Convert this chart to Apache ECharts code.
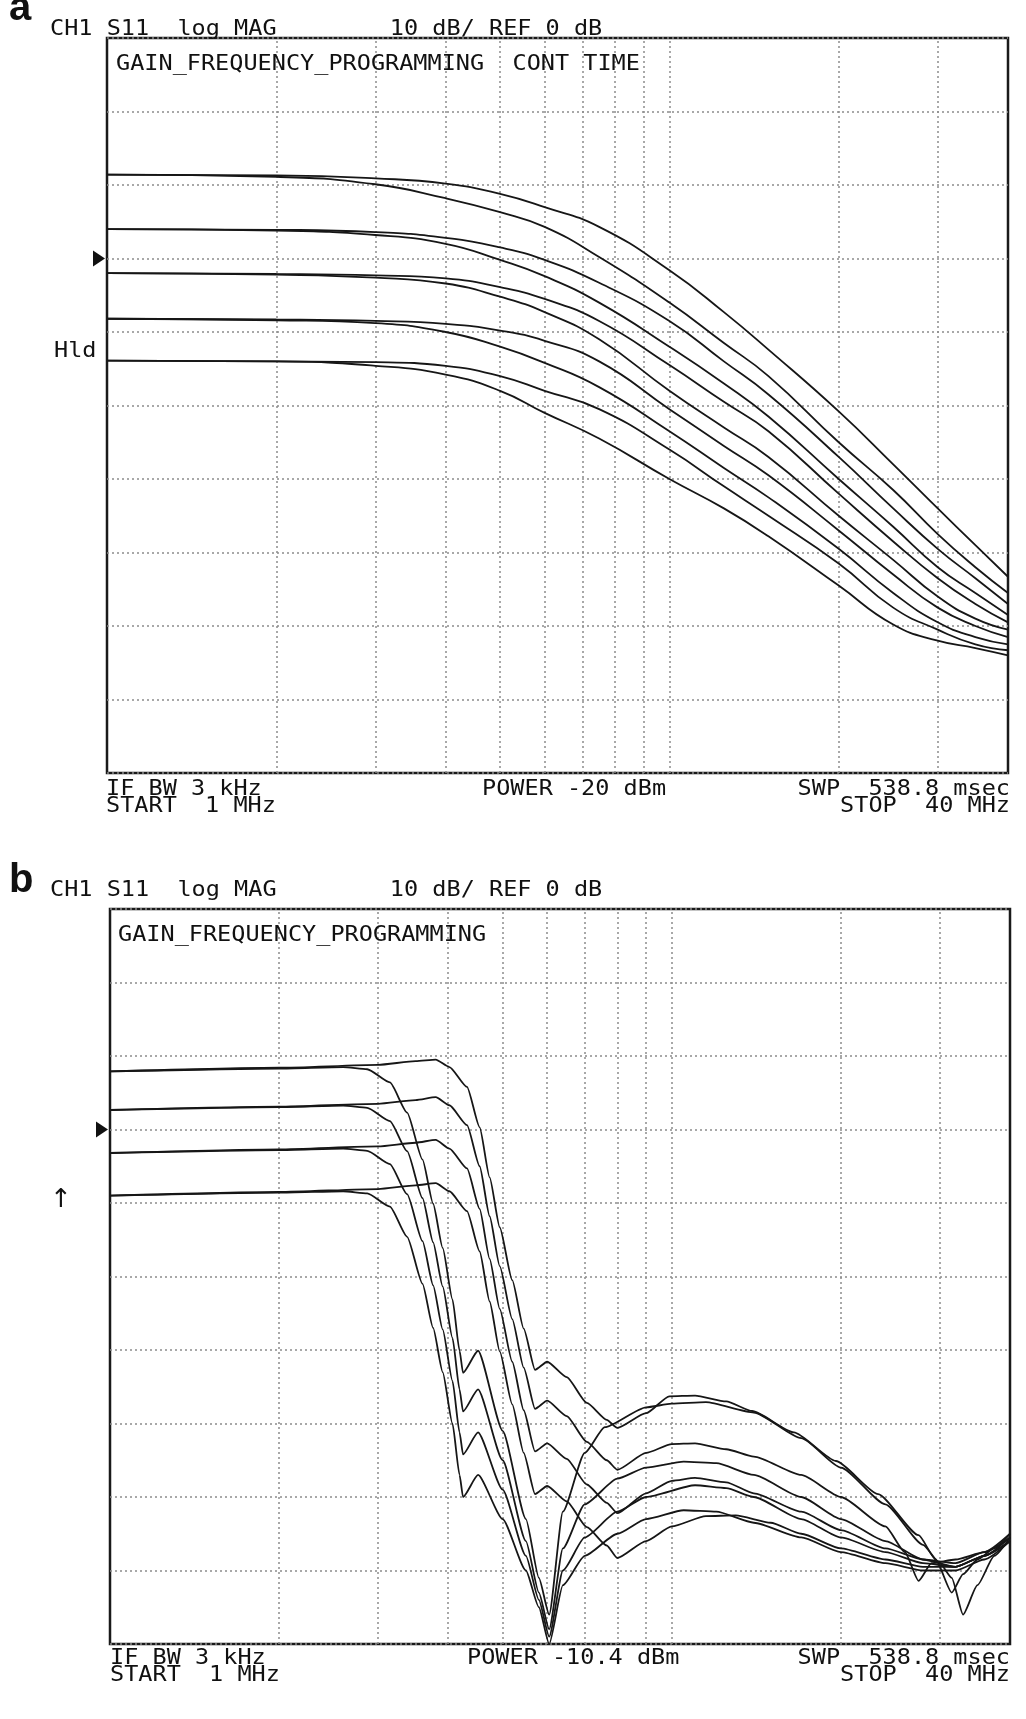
<!DOCTYPE html>
<html>
<head>
<meta charset="utf-8">
<title>GAIN_FREQUENCY_PROGRAMMING</title>
<style>
  html, body { margin: 0; padding: 0; background: #fff; }
  #main { width: 1026px; height: 1719px; }
</style>
</head>
<body>
<div id="main"></div>
<script src="https://cdn.jsdelivr.net/npm/echarts@6/dist/echarts.min.js"></script>
<script>
// vertical grid lines of the analyzer screen (MHz, log sweep 1..40)
var freqGrid = [2, 3, 4, 5, 6, 7, 8, 9, 10, 20, 30];

// ---- panel a : continuous-time filter, 5 gains x 2 bandwidths (dB) ----
var aFreq = [1, 2, 3, 4, 5, 6, 7.5, 10, 12.5, 15, 20, 25, 30, 35, 40];
var a1A = [11.4, 11.3, 10.9, 10.2, 8.8, 7.0, 4.3, -1.6, -7.3, -12.4, -20.8, -28, -34, -39, -43.3];
var a1B = [11.4, 11.1, 10.1, 8.2, 6.3, 4.3, 0.2, -6, -11.5, -16, -25, -31.5, -37.5, -42, -45.5];
var a2A = [4.0, 3.9, 3.6, 2.8, 1.5, -0.2, -3.3, -8.5, -14, -18.5, -27, -34, -39.5, -43.5, -47];
var a2B = [4.0, 3.8, 3.2, 2.0, -0.2, -2.4, -6, -12, -17, -21.5, -30, -36.5, -42, -45.5, -48.5];
var a3A = [-2.0, -2.1, -2.3, -2.7, -3.9, -5.5, -8.5, -14.5, -19.5, -23.5, -32, -38.5, -43.5, -47, -49.5];
var a3B = [-2.0, -2.2, -2.6, -3.4, -5.2, -7.3, -11, -18, -23, -27, -35, -41, -46, -49, -50.5];
var a4A = [-8.2, -8.3, -8.5, -8.9, -9.8, -11.2, -14, -20.5, -25.5, -29.5, -37, -43, -47.5, -50, -51.5];
var a4B = [-8.2, -8.4, -8.8, -10, -12, -14.2, -17.5, -23.5, -28.5, -32.5, -39.5, -45.5, -49.5, -51.5, -52.5];
var a5A = [-13.9, -14, -14.1, -14.6, -16, -18, -20.5, -26, -31, -35, -41.5, -47.5, -50.5, -52.5, -53.3];
var a5B = [-13.9, -14.0, -14.6, -15.8, -18, -21, -24.5, -30, -34, -37.8, -44.5, -49.8, -52, -53, -54];

// ---- panel b : filter with notches, 4 gains x 2 bandwidths, [MHz, dB] ----
var b1A = [[1,7.9],[2,8.4],[3,8.8],[3.5,9.3],[3.8,9.5],[4.02,8.5],[4.32,5.8],[4.55,0.3],[4.74,-6.5],[4.94,-13.3],[5.2,-20.5],[5.45,-27.1],[5.71,-32.7],[6.0,-31.6],[6.5,-33.7],[7.06,-37.2],[7.66,-39.5],[8.0,-40.6],[9.0,-38.6],[9.9,-36.3],[11,-36.2],[12.5,-37],[13.9,-38.3],[16.5,-41.2],[19.6,-45.1],[23.3,-49.6],[27.5,-55.2],[29.5,-58.5],[31.5,-63],[33,-60.5],[35,-58.5],[37.5,-57],[40,-55]];
var b1B = [[1,7.9],[2,8.3],[2.6,8.5],[2.87,8.2],[3.15,6.4],[3.38,2.3],[3.6,-4.1],[3.76,-10.1],[3.91,-16.1],[4.07,-23.1],[4.19,-30.1],[4.25,-33.1],[4.52,-30.1],[5.0,-41],[5.5,-53],[5.8,-61],[6.05,-66],[6.4,-52],[7,-44],[7.6,-40.5],[9,-37.8],[10,-37.3],[11.5,-37.1],[14,-38.5],[17,-42],[20,-46],[24,-51],[28,-56.5],[30,-59],[31.5,-61],[33,-66],[35,-62],[37.5,-58],[40,-55.5]];
var b2A = [[1,2.65],[2,3.1],[3,3.5],[3.5,4.0],[3.8,4.4],[4.02,3.3],[4.32,0.6],[4.55,-5],[4.74,-11.8],[4.94,-18.6],[5.2,-25.8],[5.45,-32.4],[5.71,-38],[6.0,-36.9],[6.5,-39],[7.06,-42.5],[7.66,-45],[8.0,-46.3],[9,-44],[10,-42.8],[11,-42.7],[12.5,-43.5],[14,-44.5],[17,-47],[20,-50],[24,-54],[26,-57.5],[27.5,-61.4],[29,-59],[32,-58.5],[36,-57.5],[40,-55]];
var b2B = [[1,2.65],[2,3.05],[2.6,3.25],[2.87,2.95],[3.15,1.15],[3.38,-2.95],[3.6,-9.35],[3.76,-15.35],[3.91,-21.35],[4.07,-28.35],[4.19,-35.35],[4.25,-38.35],[4.52,-35.35],[5.0,-45],[5.5,-56],[5.8,-63],[6.05,-68],[6.4,-57],[7,-51],[8,-47.5],[9,-46],[10.5,-45.2],[12,-45.4],[14,-47],[17,-50],[20,-53],[24,-56],[28,-58.5],[32,-59.5],[36,-58],[40,-55.5]];
var b3A = [[1,-3.2],[2,-2.7],[3,-2.3],[3.5,-1.8],[3.8,-1.4],[4.02,-2.6],[4.32,-5.3],[4.55,-10.8],[4.74,-17.6],[4.94,-24.4],[5.2,-31.6],[5.45,-38.2],[5.71,-43.8],[6.0,-42.7],[6.5,-44.8],[7.06,-48.3],[7.66,-50.8],[8.0,-52.2],[9,-49.5],[10,-47.8],[11,-47.4],[12.5,-48],[14,-49.5],[17,-52],[20,-54.5],[24,-57],[28,-58.5],[32,-59],[36,-57.5],[40,-55.5]];
var b3B = [[1,-3.2],[2,-2.8],[2.6,-2.6],[2.87,-2.9],[3.15,-4.7],[3.38,-8.8],[3.6,-15.2],[3.76,-21.2],[3.91,-27.2],[4.07,-34.2],[4.19,-41.2],[4.25,-44.2],[4.52,-41.2],[5.0,-49],[5.5,-58],[5.8,-64],[6.05,-69],[6.4,-60],[7,-55.5],[8,-52],[9,-50],[11,-48.4],[12.5,-48.8],[14,-50],[17,-53],[20,-55.5],[24,-57.5],[28,-59],[32,-59.5],[36,-58],[40,-56]];
var b4A = [[1,-9],[2,-8.5],[3,-8.1],[3.5,-7.6],[3.8,-7.3],[4.02,-8.4],[4.32,-11.1],[4.55,-16.6],[4.74,-23.4],[4.94,-30.2],[5.2,-37.4],[5.45,-44],[5.71,-49.6],[6.0,-48.5],[6.5,-50.6],[7.06,-54.1],[7.66,-56.6],[8.0,-58.3],[9,-56],[10,-54],[11.5,-52.6],[13,-52.5],[15,-53.5],[17,-55],[20,-57],[24,-58.5],[28,-59.5],[32,-59.5],[36,-58],[40,-56]];
var b4B = [[1,-9],[2,-8.6],[2.6,-8.4],[2.87,-8.7],[3.15,-10.5],[3.38,-14.6],[3.6,-21],[3.76,-27],[3.91,-33],[4.07,-40],[4.19,-47],[4.25,-50],[4.52,-47],[5.0,-53],[5.5,-60],[5.8,-65],[6.05,-70],[6.4,-62],[7,-58],[8,-55],[9,-53],[10.5,-51.8],[12,-52],[14,-53.5],[17,-55.5],[20,-57.5],[24,-59],[28,-60],[32,-60],[36,-58.5],[40,-56]];

var aTraces = [a1A, a1B, a2A, a2B, a3A, a3B, a4A, a4B, a5A, a5B];
var bTraces = [b1A, b1B, b2A, b2B, b3A, b3B, b4A, b4B];

var myChart = echarts.init(document.getElementById('main'));

var dots = { type: [2, 3], color: '#8c8c8c', width: 1.5 };
var FONT = '21px "DejaVu Sans Mono", "Liberation Mono", monospace';

function pairs(freq, vals) {
    return vals.map(function (v, i) { return [freq[i], v]; });
}

function trace(data, idx, smooth, monotone) {
    return {
        type: 'line', xAxisIndex: idx, yAxisIndex: idx, data: data,
        showSymbol: false, symbol: 'none', smooth: smooth, smoothMonotone: monotone,
        lineStyle: { color: '#161616', width: 1.8 }, silent: true, z: 3
    };
}

// empty series that carries the log grid lines and the reference marker
function screen(idx) {
    return {
        type: 'line', xAxisIndex: idx, yAxisIndex: idx, data: [], silent: true, z: 1,
        markLine: {
            silent: true, z: 1, symbol: ['none', 'none'], label: { show: false },
            lineStyle: dots, emphasis: { disabled: true },
            data: freqGrid.map(function (f) { return { xAxis: f }; })
        },
        markPoint: {
            silent: true, symbol: 'triangle', symbolSize: [16, 12], symbolRotate: -90,
            symbolOffset: [-8, 0], itemStyle: { color: '#111' }, label: { show: false },
            data: [{ coord: [1, 0] }]
        }
    };
}

function label(s, x, y, align) {
    return {
        type: 'text', x: x, y: y, scaleX: 1.12, silent: true, z: 10,
        style: { text: s, font: FONT, fill: '#111', textAlign: align || 'left', textVerticalAlign: 'middle' }
    };
}

function letter(s, x, y) {
    return {
        type: 'text', x: x, y: y, silent: true, z: 10,
        style: { text: s, font: 'bold 40px "Liberation Sans", Arial, sans-serif', fill: '#111', textAlign: 'left', textVerticalAlign: 'middle' }
    };
}

var series = [screen(0), screen(1)];
aTraces.forEach(function (t) { series.push(trace(pairs(aFreq, t), 0, 0.5, null)); });
bTraces.forEach(function (t) { series.push(trace(t, 1, 0.2, 'x')); });

function xAx(i) {
    return {
        type: 'log', logBase: 10, min: 1, max: 40, gridIndex: i,
        axisLine: { show: false }, axisTick: { show: false }, axisLabel: { show: false }, splitLine: { show: false }
    };
}
function yAx(i) {
    return {
        type: 'value', min: -70, max: 30, interval: 10, gridIndex: i,
        axisLine: { show: false }, axisTick: { show: false }, axisLabel: { show: false },
        splitLine: { show: true, lineStyle: dots }
    };
}

var option = {
    animation: false,
    backgroundColor: '#fff',
    grid: [
        { left: 107, top: 38, width: 901, height: 735, show: true, borderColor: '#1a1a1a', borderWidth: 2.5 },
        { left: 110, top: 909, width: 900, height: 735, show: true, borderColor: '#1a1a1a', borderWidth: 2.5 }
    ],
    xAxis: [xAx(0), xAx(1)],
    yAxis: [yAx(0), yAx(1)],
    series: series,
    graphic: [
        letter('a', 9, 9),
        label('CH1 S11  log MAG        10 dB/ REF 0 dB', 50, 30),
        label('GAIN_FREQUENCY_PROGRAMMING  CONT TIME', 116, 64.5),
        label('Hld', 54, 352),
        label('IF BW 3 kHz', 106, 789.5),
        label('START  1 MHz', 106, 806.5),
        label('POWER -20 dBm', 482, 789.5),
        label('SWP  538.8 msec', 1010, 789.5, 'right'),
        label('STOP  40 MHz', 1010, 806.5, 'right'),

        letter('b', 9, 880.5),
        label('CH1 S11  log MAG        10 dB/ REF 0 dB', 50, 891),
        label('GAIN_FREQUENCY_PROGRAMMING', 118, 935.5),
        {
            type: 'text', x: 50, y: 1200, silent: true, z: 10,
            style: { text: '↑', font: '26px "DejaVu Sans", sans-serif', fill: '#111', textAlign: 'left', textVerticalAlign: 'middle' }
        },
        label('IF BW 3 kHz', 110, 1658.5),
        label('START  1 MHz', 110, 1675.5),
        label('POWER -10.4 dBm', 467, 1658.5),
        label('SWP  538.8 msec', 1010, 1658.5, 'right'),
        label('STOP  40 MHz', 1010, 1675.5, 'right')
    ]
};

myChart.setOption(option);
</script>
</body>
</html>
